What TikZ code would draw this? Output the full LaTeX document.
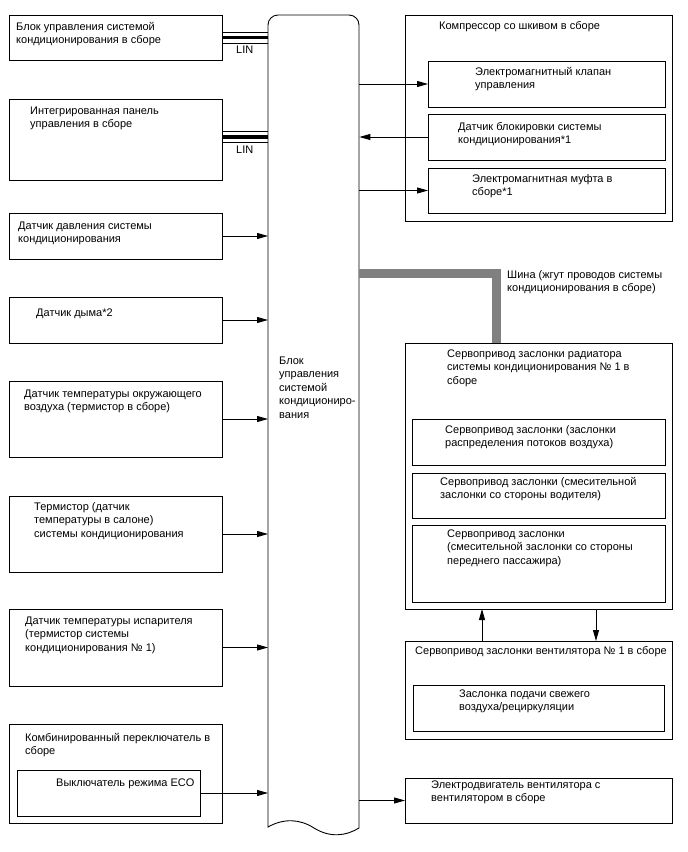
\documentclass[tikz,border=0pt]{standalone}
\usepackage{fontspec}
\setmainfont{Liberation Sans}
\usetikzlibrary{arrows.meta}
\definecolor{busgray}{RGB}{128,128,128}
\newcommand\mylines[1]{\begin{tabular}[t]{@{}l@{}}#1\end{tabular}}
\begin{document}
\begin{tikzpicture}[x=1pt,y=-1pt,
  box/.style={draw, line width=0.9pt, anchor=north west, inner sep=0pt, outer sep=0pt},
  lbl/.style={anchor=base west, inner sep=0pt, font=\fontsize{11}{13.6}\selectfont},
  arr/.style={line width=0.9pt, -{Triangle[length=11pt,width=6pt]}},
  linthin/.style={line width=0.9pt},
  linthick/.style={line width=3.4pt},
  bus/.style={line width=9pt, draw=busgray}]
\useasboundingbox[fill=white] (0,0) rectangle (688,852);

% central control unit
\node[anchor=north west, minimum width=91pt, minimum height=812pt, inner sep=0pt] (bar) at (268,15) {};
\draw[line width=0.9pt] (268,827) -- (268,25) arc[start angle=180, end angle=90, radius=10pt]
  -- (349,15) arc[start angle=90, end angle=0, radius=10pt] -- (359,828)
  .. controls (346,836) and (330,838) .. (314,828)
  .. controls (300,819) and (284,818) .. cycle;
\node[lbl] (barlbl) at (279,364) {\mylines{Блок\\управления\\системой\\кондициониро-\\вания}};

% bus
\coordinate (busbend) at (496,273);
\node[box, minimum width=267pt, minimum height=266pt] (servo) at (405,343) {};
\draw[bus] (busbend -| bar.east) -- (busbend) -- (busbend |- servo.north);
\node[box, minimum width=267pt, minimum height=266pt] at (405,343) {};
\node[lbl] (buslbl) at (507,278) {\mylines{Шина (жгут проводов системы\\кондиционирования в сборе)}};

% left boxes
\node[box, minimum width=213pt, minimum height=45pt] (b1) at (9,15) {};
\node[lbl] at (16,30) {\mylines{Блок управления системой\\кондиционирования в сборе}};
\node[box, minimum width=213pt, minimum height=81pt] (b2) at (9,99) {};
\node[lbl] at (30,114) {\mylines{Интегрированная панель\\управления в сборе}};
\node[box, minimum width=213pt, minimum height=46pt] (b3) at (9,213) {};
\node[lbl] at (18,229) {\mylines{Датчик давления системы\\кондиционирования}};
\node[box, minimum width=213pt, minimum height=46pt] (b4) at (9,297) {};
\node[lbl] at (36,316) {Датчик дыма*2};
\node[box, minimum width=213pt, minimum height=76pt] (b5) at (9,381) {};
\node[lbl] at (24,397) {\mylines{Датчик температуры окружающего\\воздуха (термистор в сборе)}};
\node[box, minimum width=213pt, minimum height=76pt] (b6) at (9,496) {};
\node[lbl] at (34,510) {\mylines{Термистор (датчик\\температуры в салоне)\\системы кондиционирования}};
\node[box, minimum width=213pt, minimum height=77pt] (b7) at (9,609) {};
\node[lbl] at (25,624) {\mylines{Датчик температуры испарителя\\(термистор системы\\кондиционирования № 1)}};
\node[box, minimum width=213pt, minimum height=99pt] (b8) at (9,724) {};
\node[lbl] at (25,741) {\mylines{Комбинированный переключатель в\\сборе}};
\node[box, minimum width=183pt, minimum height=46pt] (eco) at (17,770) {};
\node[lbl] at (56,786) {Выключатель режима ECO};

% LIN connections
\draw[linthin] ([yshift=5pt]b1.east) -- ([yshift=5pt]b1.east -| bar.west);
\draw[linthick] (b1.east) -- (b1.east -| bar.west);
\draw[linthin] ([yshift=-5.5pt]b1.east) -- ([yshift=-5.5pt]b1.east -| bar.west);
\node[lbl] (lin1) at (236,53) {LIN};
\draw[linthin] ([yshift=8pt]b2.east) -- ([yshift=8pt]b2.east -| bar.west);
\draw[linthick] ([yshift=2.5pt]b2.east) -- ([yshift=2.5pt]b2.east -| bar.west);
\draw[linthin] ([yshift=-3pt]b2.east) -- ([yshift=-3pt]b2.east -| bar.west);
\node[lbl] (lin2) at (236,153) {LIN};

% sensor arrows
\foreach \n in {b3,b4,b5,b6,b7,eco}
  \draw[arr] (\n.east) -- (\n.east -| bar.west);

% compressor
\node[box, minimum width=267pt, minimum height=206pt] (comp) at (405,15) {};
\node[lbl] at (439,29) {Компрессор со шкивом в сборе};
\node[box, minimum width=237pt, minimum height=46pt] (c1) at (428,61) {};
\node[lbl] at (475,75) {\mylines{Электромагнитный клапан\\управления}};
\node[box, minimum width=237pt, minimum height=46pt] (c2) at (428,114) {};
\node[lbl] at (458,130) {\mylines{Датчик блокировки системы\\кондиционирования*1}};
\node[box, minimum width=237pt, minimum height=45pt] (c3) at (428,168) {};
\node[lbl] at (472,182) {\mylines{Электромагнитная муфта в\\сборе*1}};
\draw[arr] (c1.west -| bar.east) -- (c1.west);
\draw[arr] (c2.west) -- (c2.west -| bar.east);
\draw[arr] (c3.west -| bar.east) -- (c3.west);

% servo assembly
\node[lbl] at (447,357) {\mylines{Сервопривод заслонки радиатора\\системы кондиционирования № 1 в\\сборе}};
\node[box, minimum width=253pt, minimum height=46pt] (sA) at (412,419) {};
\node[lbl] at (445,433) {\mylines{Сервопривод заслонки (заслонки\\распределения потоков воздуха)}};
\node[box, minimum width=253pt, minimum height=45pt] (sB) at (412,473) {};
\node[lbl] at (440,485) {\mylines{Сервопривод заслонки (смесительной\\заслонки со стороны водителя)}};
\node[box, minimum width=253pt, minimum height=77pt] (sC) at (412,525) {};
\node[lbl] at (447,537) {\mylines{Сервопривод заслонки\\(смесительной заслонки со стороны\\переднего пассажира)}};

% fan servo
\node[box, minimum width=267pt, minimum height=98pt] (fan) at (405,641) {};
\node[lbl] at (415,654) {Сервопривод заслонки вентилятора № 1 в сборе};
\node[box, minimum width=251pt, minimum height=46pt] (fanin) at (413,685) {};
\node[lbl] at (459,697) {\mylines{Заслонка подачи свежего\\воздуха/рециркуляции}};
\coordinate (upx) at (482,0);
\coordinate (dnx) at (596,0);
\draw[arr] (upx |- fan.north) -- (upx |- servo.south);
\draw[arr] (dnx |- servo.south) -- (dnx |- fan.north);

% blower motor
\node[box, minimum width=267pt, minimum height=45pt] (motor) at (405,778) {};
\node[lbl] at (431,788) {\mylines{Электродвигатель вентилятора с\\вентилятором в сборе}};
\draw[arr] (motor.west -| bar.east) -- (motor.west);
\end{tikzpicture}
\end{document}
